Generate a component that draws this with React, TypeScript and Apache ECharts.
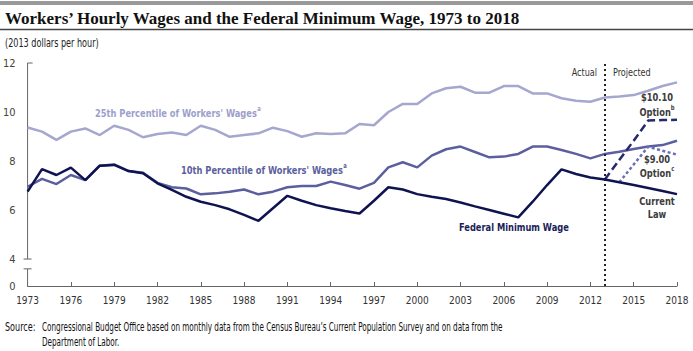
import React, { useEffect, useRef } from 'react';
import * as echarts from 'echarts';

const years = [
  '1973', '1974', '1975', '1976', '1977', '1978', '1979', '1980', '1981', '1982',
  '1983', '1984', '1985', '1986', '1987', '1988', '1989', '1990', '1991', '1992',
  '1993', '1994', '1995', '1996', '1997', '1998', '1999', '2000', '2001', '2002',
  '2003', '2004', '2005', '2006', '2007', '2008', '2009', '2010', '2011', '2012',
  '2013', '2014', '2015', '2016', '2017', '2018',
];

const federalMinimumWage = [
  6.75, 7.67, 7.43, 7.73, 7.22, 7.81, 7.84, 7.59, 7.5, 7.09,
  6.82, 6.54, 6.34, 6.2, 6.03, 5.8, 5.56, 6.07, 6.58, 6.38,
  6.2, 6.07, 5.96, 5.86, 6.38, 6.93, 6.84, 6.65, 6.54, 6.45,
  6.31, 6.15, 6.0, 5.85, 5.7, 6.34, 7.02, 7.66, 7.47, 7.33,
  7.25, 7.13, 7.02, 6.9, 6.78, 6.65,
];

const tenthPercentile = [
  6.95, 7.27, 7.06, 7.43, 7.22, 7.81, 7.86, 7.59, 7.52, 7.11,
  6.93, 6.88, 6.64, 6.68, 6.75, 6.84, 6.64, 6.75, 6.93, 6.98,
  6.98, 7.16, 7.02, 6.87, 7.11, 7.74, 7.95, 7.74, 8.22, 8.48,
  8.59, 8.37, 8.15, 8.18, 8.29, 8.59, 8.59, 8.45, 8.29, 8.11,
  8.29, 8.38, 8.49, 8.59, 8.65, 8.83,
];

const twentyFifthPercentile = [
  9.37, 9.2, 8.86, 9.2, 9.33, 9.06, 9.44, 9.27, 8.97, 9.1,
  9.16, 9.06, 9.44, 9.27, 8.99, 9.06, 9.13, 9.36, 9.22, 8.99,
  9.13, 9.1, 9.13, 9.51, 9.46, 10.0, 10.33, 10.33, 10.76, 10.97,
  11.03, 10.79, 10.79, 11.06, 11.06, 10.76, 10.76, 10.56, 10.46, 10.42,
  10.59, 10.63, 10.69, 10.87, 11.06, 11.21,
];

const optionTenTen: (number | null)[] = [
  null, null, null, null, null, null, null, null, null, null,
  null, null, null, null, null, null, null, null, null, null,
  null, null, null, null, null, null, null, null, null, null,
  null, null, null, null, null, null, null, null, null, null,
  7.25, 8.04, 8.83, 9.65, 9.67, 9.68,
];

const optionNine: (number | null)[] = [
  null, null, null, null, null, null, null, null, null, null,
  null, null, null, null, null, null, null, null, null, null,
  null, null, null, null, null, null, null, null, null, null,
  null, null, null, null, null, null, null, null, null, null,
  null, 7.13, 7.86, 8.58, 8.42, 8.26,
];

const yTickValues = [4, 6, 8, 10, 12];
const yBottomValue = 2.9; // drawn as "0" below the axis break
const yBreakValue = 3.6;
const projectionStartYear = '2013';

const condensed = '"Liberation Sans Narrow", "DejaVu Sans Condensed", "Open Sans", sans-serif';

export default function App() {
  const ref = useRef<HTMLDivElement>(null);

  useEffect(() => {
    if (!ref.current) return;
    const chart = echarts.init(ref.current, null, { renderer: 'svg' });

    const option: any = {
      animation: false,
      backgroundColor: '#ffffff',
      grid: { left: 27, right: 16, top: 63, bottom: 65, containLabel: false },
      xAxis: {
        type: 'category',
        data: years,
        boundaryGap: false,
        axisLine: { show: true, lineStyle: { color: '#666666', width: 1 } },
        axisTick: { show: true, inside: true, length: 4, interval: 2, lineStyle: { color: '#666666' } },
        axisLabel: {
          interval: 2,
          margin: 9,
          color: '#333333',
          fontFamily: condensed,
          fontSize: 10,
        },
        splitLine: { show: false },
      },
      yAxis: {
        type: 'value',
        min: yBottomValue,
        max: 12,
        axisLine: { show: false },
        axisTick: { show: false },
        splitLine: { show: false },
        axisLabel: {
          customValues: [yBottomValue, ...yTickValues],
          formatter: (v: number) => (v < 4 ? '0' : String(v)),
          margin: 12,
          color: '#4a4236',
          fontFamily: condensed,
          fontSize: 11,
        },
      },
      series: [
        {
          name: '25th Percentile of Workers\' Wages',
          type: 'line',
          data: twentyFifthPercentile,
          symbol: 'none',
          lineStyle: { color: '#a5a7cf', width: 2.5 },
          z: 2,
        },
        {
          name: '10th Percentile of Workers\' Wages',
          type: 'line',
          data: tenthPercentile,
          symbol: 'none',
          lineStyle: { color: '#5c5f9e', width: 2.5 },
          z: 3,
        },
        {
          name: 'Federal Minimum Wage',
          type: 'line',
          data: federalMinimumWage,
          symbol: 'none',
          lineStyle: { color: '#0f1350', width: 2.5 },
          z: 5,
          markLine: {
            silent: true,
            symbol: 'none',
            label: { show: false },
            lineStyle: { color: '#222222', type: [2, 3], width: 2 },
            data: [{ xAxis: projectionStartYear }],
          },
        },
        {
          name: '$10.10 Option',
          type: 'line',
          data: optionTenTen,
          symbol: 'none',
          connectNulls: false,
          lineStyle: { color: '#252a6c', width: 2.5, type: [8, 4] },
          z: 4,
        },
        {
          name: '$9.00 Option',
          type: 'line',
          data: optionNine,
          symbol: 'none',
          connectNulls: false,
          lineStyle: { color: '#6b6fb4', width: 2.5, type: [3, 2.5] },
          z: 4,
        },
      ],
    };

    chart.setOption(option);

    const x0 = chart.convertToPixel({ xAxisIndex: 0 }, years[0]) as number;
    const yTop = chart.convertToPixel({ yAxisIndex: 0 }, 12) as number;
    const y4 = chart.convertToPixel({ yAxisIndex: 0 }, 4) as number;
    const yBrk = chart.convertToPixel({ yAxisIndex: 0 }, yBreakValue) as number;
    const yBot = chart.convertToPixel({ yAxisIndex: 0 }, yBottomValue) as number;

    const axisColor = '#666666';
    const lbl = (
      text: string, x: number, y: number, color: string,
      align = 'left', size = 11, weight = 'bold', sx = 0.84,
    ) => ({
      type: 'text',
      x,
      y,
      scaleX: sx,
      silent: true,
      style: {
        text,
        fill: color,
        font: `${weight} ${size}px ${condensed}`,
        align,
        verticalAlign: 'middle',
      },
    });
    const supLbl = (main: string, sup: string, x: number, y: number, color: string, align = 'left', sx = 0.84) => ({
      type: 'text',
      x,
      y,
      scaleX: sx,
      silent: true,
      style: {
        text: `{m|${main}}{s|${sup}}`,
        align,
        verticalAlign: 'middle',
        rich: {
          m: { fill: color, font: `bold 11px ${condensed}`, lineHeight: 14, verticalAlign: 'bottom' },
          s: { fill: color, font: `bold 7px ${condensed}`, lineHeight: 14, verticalAlign: 'top', padding: [0, 0, 6, 0] },
        },
      },
    });

    chart.setOption({
      graphic: [
        // header rules
        { type: 'rect', shape: { x: 0, y: 1, width: 693, height: 4 }, style: { fill: '#999999' }, silent: true },
        { type: 'line', shape: { x1: 0, y1: 29.5, x2: 693, y2: 29.5 }, style: { stroke: '#444444', lineWidth: 1.5 }, silent: true },
        {
          type: 'text', x: 5, y: 18, silent: true,
          style: {
            text: 'Workers\u2019 Hourly Wages and the Federal Minimum Wage, 1973 to 2018',
            font: 'bold 17px "Liberation Serif", "DejaVu Serif", serif',
            fill: '#111111',
            verticalAlign: 'middle',
          },
        },
        lbl('(2013 dollars per hour)', 5, 42, '#222222', 'left', 12, 'normal', 0.75),
        // y axis with break
        { type: 'line', shape: { x1: x0, y1: yTop, x2: x0, y2: y4 }, style: { stroke: axisColor, lineWidth: 1 }, silent: true },
        { type: 'line', shape: { x1: x0, y1: yBrk, x2: x0, y2: yBot }, style: { stroke: axisColor, lineWidth: 1 }, silent: true },
        { type: 'line', shape: { x1: x0, y1: yTop, x2: x0 + 5, y2: yTop }, style: { stroke: axisColor, lineWidth: 1 }, silent: true },
        { type: 'line', shape: { x1: x0 - 4, y1: y4, x2: x0 + 4, y2: y4 }, style: { stroke: axisColor, lineWidth: 1 }, silent: true },
        { type: 'line', shape: { x1: x0 - 4, y1: yBrk, x2: x0 + 4, y2: yBrk }, style: { stroke: axisColor, lineWidth: 1 }, silent: true },
        // series annotations
        supLbl('25th Percentile of Workers\' Wages', 'a', 95, 112, '#9d9fcb'),
        supLbl('10th Percentile of Workers\' Wages', 'a', 181, 169, '#5c5f9e'),
        lbl('Federal Minimum Wage', 459, 227, '#1a1e5a'),
        lbl('$10.10', 657, 97, '#3c3c3c', 'center'),
        supLbl('Option', 'b', 657, 111, '#3c3c3c', 'center'),
        lbl('$9.00', 657, 159, '#3c3c3c', 'center'),
        supLbl('Option', 'c', 657, 172, '#3c3c3c', 'center'),
        lbl('Current', 657, 201, '#3c3c3c', 'center'),
        lbl('Law', 657, 214, '#3c3c3c', 'center'),
        lbl('Actual', 597, 72, '#333333', 'right', 10, 'normal', 0.9),
        lbl('Projected', 613, 72, '#333333', 'left', 10, 'normal', 0.9),
        // source
        lbl('Source:', 5, 327, '#111111', 'left', 11.5, 'normal', 0.78),
        lbl('Congressional Budget Office based on monthly data from the Census Bureau\u2019s Current Population Survey and on data from the', 42, 327, '#111111', 'left', 11.5, 'normal', 0.7),
        lbl('Department of Labor.', 42, 342, '#111111', 'left', 11.5, 'normal', 0.7),
      ],
    });

    return () => chart.dispose();
  }, []);

  return (
    <div
      ref={ref}
      style={{ position: 'fixed', left: 0, top: 0, width: 693, height: 351, background: '#fff' }}
    />
  );
}
